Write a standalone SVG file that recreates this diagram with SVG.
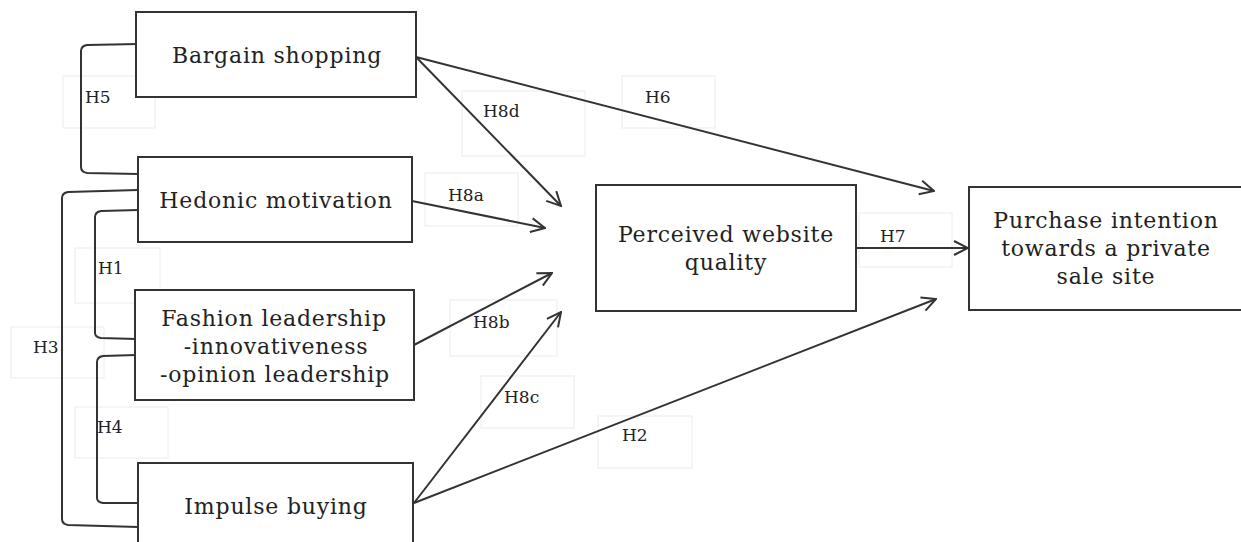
<svg xmlns="http://www.w3.org/2000/svg" width="1241" height="542" viewBox="0 0 1241 542">
<defs>
<style>
.box{fill:#fff;stroke:#333;stroke-width:2}
.t{font-family:"DejaVu Serif","Liberation Serif",serif;font-size:22px;letter-spacing:0.8px;fill:#222;text-anchor:middle}
.l{font-family:"DejaVu Serif","Liberation Serif",serif;font-size:17px;fill:#222}
.lb{fill:none;stroke:#ececec;stroke-width:1}
.c{fill:none;stroke:#333;stroke-width:2}
</style>
<marker id="ah" viewBox="0 0 16 16" refX="15" refY="8" markerWidth="16" markerHeight="16" markerUnits="userSpaceOnUse" orient="auto">
<path d="M1,1 L15,8 L1,15" fill="none" stroke="#333" stroke-width="2"/>
</marker>
</defs>
<rect width="1241" height="542" fill="#fff"/>
<g id="label-boxes">
<rect class="lb" x="63" y="76" width="92" height="52"/>
<rect class="lb" x="75" y="248" width="85" height="55"/>
<rect class="lb" x="11" y="327" width="93" height="51"/>
<rect class="lb" x="75" y="407" width="93" height="51"/>
<rect class="lb" x="462" y="91" width="123" height="65"/>
<rect class="lb" x="622" y="76" width="93" height="52"/>
<rect class="lb" x="425" y="173" width="93" height="53"/>
<rect class="lb" x="450" y="300" width="107" height="56"/>
<rect class="lb" x="481" y="376" width="93" height="52"/>
<rect class="lb" x="598" y="416" width="94" height="52"/>
<rect class="lb" x="859" y="213" width="93" height="54"/>
</g>
<g id="connectors">
<path class="c" d="M138,44 L87,45 Q81,46 81,51 L81,167 Q81,172 87,173 L138,174"/>
<path class="c" d="M138,190 L68,192 Q62,193 62,198 L62,519 Q62,524 68,525 L138,527"/>
<path class="c" d="M138,210 L101,211 Q95,212 95,217 L95,333 Q95,337 101,338 L136,339"/>
<path class="c" d="M136,355 L103,356 Q97,357 97,362 L97,498 Q97,502 103,503 L138,503"/>
<line class="c" x1="416" y1="57" x2="934" y2="191" marker-end="url(#ah)"/>
<line class="c" x1="416" y1="57" x2="561" y2="206" marker-end="url(#ah)"/>
<line class="c" x1="412" y1="201" x2="545" y2="228" marker-end="url(#ah)"/>
<line class="c" x1="414" y1="345" x2="552" y2="273" marker-end="url(#ah)"/>
<line class="c" x1="414" y1="503" x2="561" y2="312" marker-end="url(#ah)"/>
<line class="c" x1="414" y1="503" x2="936" y2="299" marker-end="url(#ah)"/>
<line class="c" x1="856" y1="248" x2="968" y2="248" marker-end="url(#ah)"/>
</g>
<g id="labels">
<text class="l" x="85" y="103">H5</text>
<text class="l" x="98" y="274">H1</text>
<text class="l" x="33" y="353">H3</text>
<text class="l" x="97" y="433">H4</text>
<text class="l" x="483" y="117">H8d</text>
<text class="l" x="645" y="103">H6</text>
<text class="l" x="448" y="201">H8a</text>
<text class="l" x="473" y="328">H8b</text>
<text class="l" x="504" y="403">H8c</text>
<text class="l" x="622" y="441">H2</text>
<text class="l" x="880" y="242">H7</text>
</g>
<g id="bargain-shopping">
<rect class="box" x="136" y="12" width="280" height="85"/>
<text class="t" x="277" y="63">Bargain shopping</text>
</g>
<g id="hedonic-motivation">
<rect class="box" x="138" y="157" width="274" height="85"/>
<text class="t" x="276" y="208">Hedonic motivation</text>
</g>
<g id="fashion-leadership">
<rect class="box" x="135" y="290" width="279" height="110"/>
<text class="t" x="274" y="326">Fashion leadership</text>
<text class="t" x="276" y="354">-innovativeness</text>
<text class="t" x="275" y="382">-opinion leadership</text>
</g>
<g id="impulse-buying">
<rect class="box" x="138" y="463" width="275" height="90"/>
<text class="t" x="276" y="514">Impulse buying</text>
</g>
<g id="perceived-website-quality">
<rect class="box" x="596" y="185" width="260" height="126"/>
<text class="t" x="726" y="242">Perceived website</text>
<text class="t" x="726" y="270">quality</text>
</g>
<g id="purchase-intention">
<rect class="box" x="969" y="187" width="280" height="123"/>
<text class="t" x="1106" y="228">Purchase intention</text>
<text class="t" x="1106" y="256">towards a private</text>
<text class="t" x="1106" y="284">sale site</text>
</g>
</svg>
